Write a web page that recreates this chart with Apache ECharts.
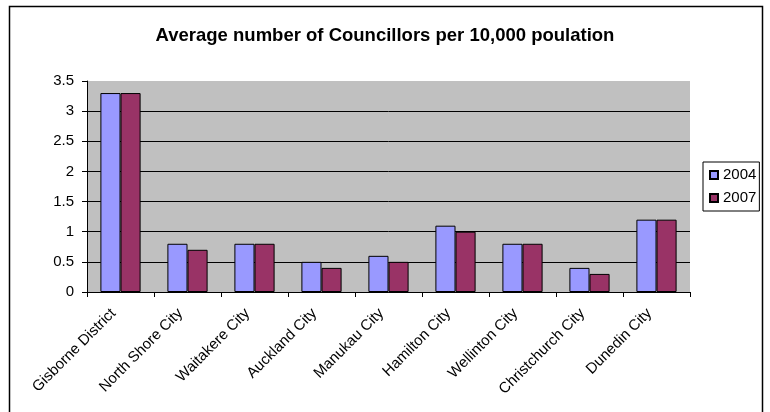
<!DOCTYPE html>
<html>
<head>
<meta charset="utf-8">
<script src="https://cdn.jsdelivr.net/npm/echarts@6/dist/echarts.min.js"></script>
<style>
html,body{margin:0;padding:0;background:#fff;}
#chart{width:770px;height:412px;}
</style>
</head>
<body>
<div id="chart"></div>
<script>
const categories = ["Gisborne District","North Shore City","Waitakere City","Auckland City","Manukau City","Hamilton City","Wellinton City","Christchurch City","Dunedin City"];
const values2004 = [3.3, 0.8, 0.8, 0.5, 0.6, 1.1, 0.8, 0.4, 1.2];
const values2007 = [3.3, 0.7, 0.8, 0.4, 0.5, 1.0, 0.8, 0.3, 1.2];
const yTicks = [0, 0.5, 1, 1.5, 2, 2.5, 3, 3.5];

const font = "'Liberation Sans', Arial, sans-serif";
const chart = echarts.init(document.getElementById('chart'), null, {renderer:'canvas'});
chart.setOption({
  animation: false,
  backgroundColor: '#ffffff',
  title: {
    text: 'Average number of Councillors per 10,000 poulation',
    left: 'center',
    top: 21,
    textStyle: {fontFamily: font, fontWeight: 'bold', fontSize: 18.5, color: '#000'}
  },
  graphic: [{
    type: 'rect',
    shape: {x: 9.5, y: 6.5, width: 753, height: 430},
    style: {fill: 'none', stroke: '#000', lineWidth: 1.5},
    silent: true
  }],
  legend: {
    orient: 'vertical',
    left: 703,
    top: 162,
    padding: [5.5, 3, 5.5, 6],
    itemGap: 8,
    itemWidth: 8,
    itemHeight: 8,
    icon: 'rect',
    borderColor: '#000',
    borderWidth: 1,
    backgroundColor: '#fff',
    textStyle: {fontFamily: font, fontSize: 15, lineHeight: 15, color: '#000'},
    data: ['2004', '2007']
  },
  grid: {
    left: 87, right: 80, top: 81, bottom: 120,
    show: true, backgroundColor: '#C0C0C0', borderWidth: 0
  },
  xAxis: {
    type: 'category',
    data: categories,
    axisLine: {lineStyle: {color: '#000', width: 1}},
    axisTick: {show: true, length: 5, lineStyle: {color: '#000'}},
    axisLabel: {rotate: 45, margin: 12, padding: [0, 10, 0, 0], fontFamily: font, fontSize: 15, color: '#000', interval: 0}
  },
  yAxis: {
    type: 'value',
    min: 0, max: 3.5, interval: 0.5,
    axisLine: {show: true, lineStyle: {color: '#000', width: 1}},
    axisTick: {show: true, length: 5, lineStyle: {color: '#000'}},
    axisLabel: {fontFamily: font, fontSize: 15, color: '#000', margin: 13,
      formatter: v => yTicks.includes(v) ? String(v) : ''},
    splitLine: {show: true, showMaxLine: false, lineStyle: {color: '#000', width: 1}}
  },
  series: [
    {name: '2004', type: 'bar', data: values2004, barGap: '0%', barCategoryGap: '40%',
     itemStyle: {color: '#9999FF', borderColor: '#000', borderWidth: 1}},
    {name: '2007', type: 'bar', data: values2007, barGap: '0%', barCategoryGap: '40%',
     itemStyle: {color: '#993366', borderColor: '#000', borderWidth: 1}}
  ]
});
</script>
</body>
</html>
